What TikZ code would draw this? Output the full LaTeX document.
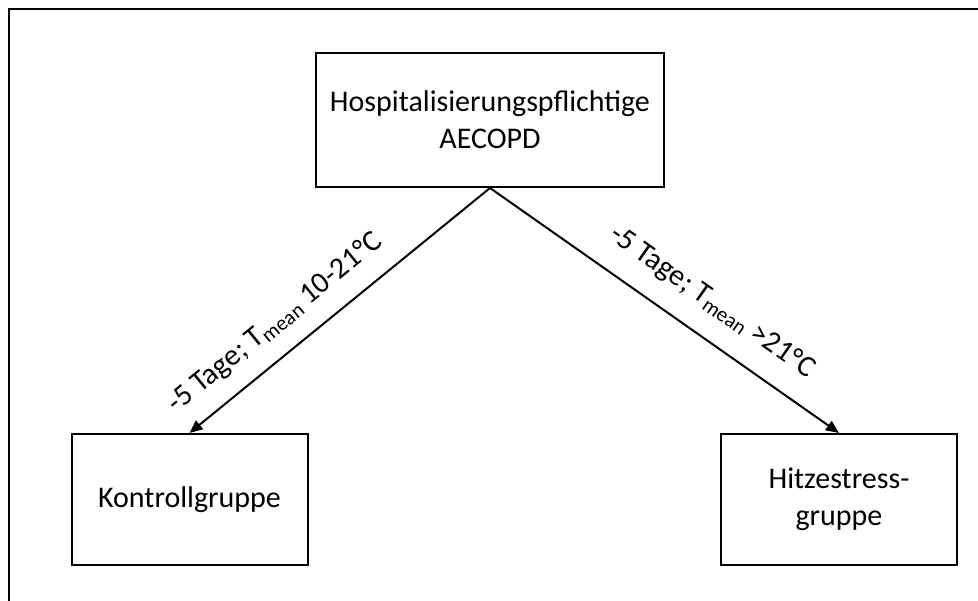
\documentclass[tikz,border=0pt]{standalone}
\usepackage{fontspec}
\setmainfont{Carlito}
\usepackage{tikz}
\usetikzlibrary{arrows.meta}

\begin{document}
\begin{tikzpicture}[x=1pt,y=1pt,
  box/.style={draw, line width=2pt, align=center, minimum width=236pt, minimum height=131pt,
    font=\fontsize{30}{37}\selectfont},
  conn/.style={line width=2pt, -{Triangle[length=13pt,width=11pt]}},
  lbl/.style={font=\fontsize{30}{36}\selectfont, sloped}]

\useasboundingbox (0,0) rectangle (978,601);

% frame
\draw[line width=2.8pt] (9,0) -- (9,592) -- (978,592);

\node[box, minimum width=348pt, minimum height=134pt] (hosp) at (490,481) {Hospitalisierungspflichtige\\AECOPD};
\node[box] (kontr) at (189.5,101.5) {Kontrollgruppe};
\node[box] (hitze) at (839,101.5) {Hitzestress-\\gruppe};

\draw[conn] (hosp.south) -- (kontr.north)
  node[lbl, pos=0.65, above=14pt] {-5 Tage; T\textsubscript{mean} 10-21°C};
\draw[conn] (hosp.south) -- (hitze.north)
  node[lbl, pos=0.58, above=17pt] {-5 Tage; T\textsubscript{mean} >21°C};

\end{tikzpicture}
\end{document}
